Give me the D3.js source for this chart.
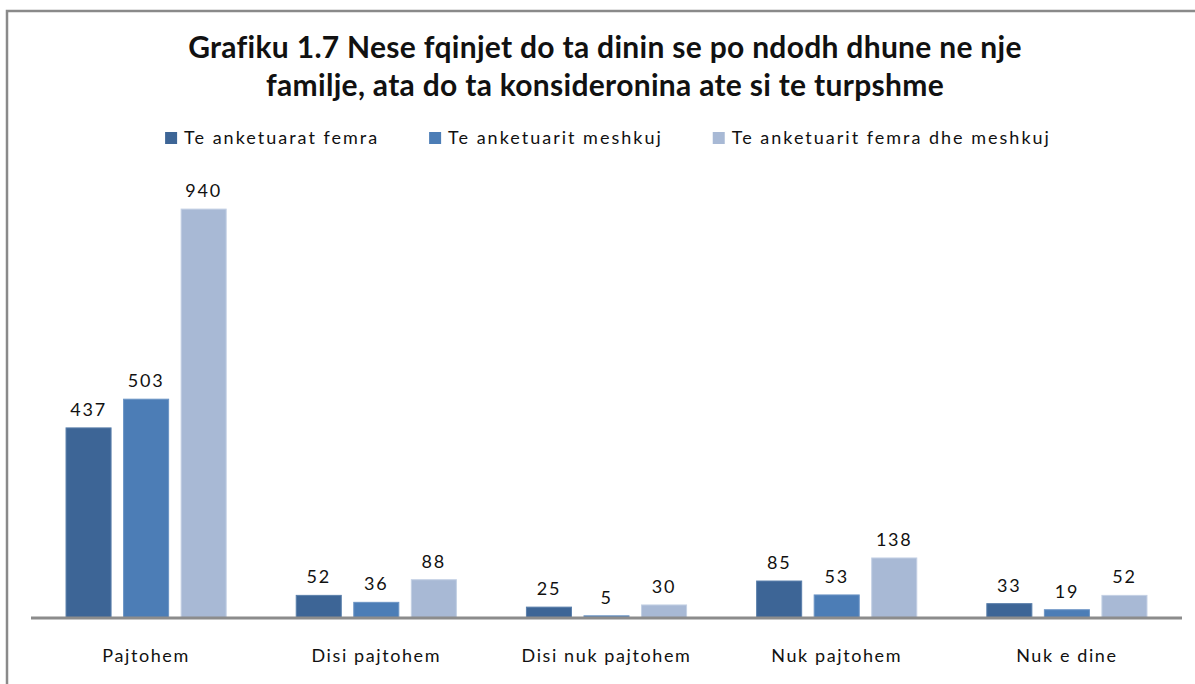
<!DOCTYPE html>
<html lang="sq">
<head>
  <meta charset="UTF-8">
  <title>Grafiku 1.7</title>
  <script src="https://cdnjs.cloudflare.com/ajax/libs/d3/7.8.5/d3.min.js"></script>
  <style>
    body { margin: 0; background: #fff; }
    text { font-family: Lato, "Open Sans", sans-serif; fill: #111; }
    .title { font-weight: bold; font-size: 30px; letter-spacing: 0.3px; }
    .legend-text { font-size: 18px; letter-spacing: 2px; }
    .cat { font-size: 18px; letter-spacing: 1.6px; }
    .val { font-size: 18px; letter-spacing: 1.8px; }
  </style>
</head>
<body>
<div id="chart"></div>
<script>
const categories = ["Pajtohem", "Disi pajtohem", "Disi nuk pajtohem", "Nuk pajtohem", "Nuk e dine"];
const seriesNames = ["Te anketuarat femra", "Te anketuarit meshkuj", "Te anketuarit femra dhe meshkuj"];
const femra = [437, 52, 25, 85, 33];
const meshkuj = [503, 36, 5, 53, 19];
const total = [940, 88, 30, 138, 52];
const titleLines = ["Grafiku 1.7 Nese fqinjet do ta dinin se po ndodh dhune ne nje",
                    "familje, ata do ta konsideronina ate si te turpshme"];

const colors = ["#3d6596", "#4c7db6", "#a8b9d5"];
const strokes = ["#5a7fab", "#6b94c5", "#c3d0e4"];
const seriesValues = [femra, meshkuj, total];

const width = 1195, height = 684;
const plot = { left: 31, right: 1182, top: 183, bottom: 618 };

const svg = d3.select("#chart").append("svg")
  .attr("width", width)
  .attr("height", height);

// frame
svg.append("rect")
  .attr("x", 7).attr("y", 11)
  .attr("width", 1200).attr("height", 700)
  .attr("fill", "#fff")
  .attr("stroke", "#8a8a8a")
  .attr("stroke-width", 2.5);

// title
svg.append("g").selectAll("text")
  .data(titleLines)
  .join("text")
  .attr("class", "title")
  .attr("x", 605)
  .attr("y", (d, i) => 58 + i * 38)
  .attr("text-anchor", "middle")
  .text(d => d);

const x0 = d3.scaleBand()
  .domain(categories)
  .range([plot.left, plot.right]);

const x1 = d3.scaleBand()
  .domain(d3.range(seriesNames.length))
  .range([0, x0.bandwidth()])
  .paddingInner(0.2)
  .paddingOuter(0.6);

const y = d3.scaleLinear()
  .domain([0, 1000])
  .range([plot.bottom, plot.top]);

const data = [];
categories.forEach((c, i) => {
  seriesValues.forEach((vals, s) => {
    data.push({ cat: c, s: s, v: vals[i] });
  });
});

const bars = svg.append("g");
bars.selectAll("rect")
  .data(data)
  .join("rect")
  .attr("x", d => x0(d.cat) + x1(d.s) + 0.5)
  .attr("y", d => y(d.v))
  .attr("width", x1.bandwidth() - 1)
  .attr("height", d => y(0) - y(d.v))
  .attr("fill", d => colors[d.s])
  .attr("stroke", d => strokes[d.s])
  .attr("stroke-width", 1);

svg.append("g").selectAll("text")
  .data(data)
  .join("text")
  .attr("class", "val")
  .attr("x", d => x0(d.cat) + x1(d.s) + x1.bandwidth() / 2)
  .attr("y", d => y(d.v) - 12)
  .attr("text-anchor", "middle")
  .text(d => d.v);

// axis line
svg.append("line")
  .attr("x1", plot.left).attr("x2", plot.right)
  .attr("y1", plot.bottom).attr("y2", plot.bottom)
  .attr("stroke", "#8c8c8c")
  .attr("stroke-width", 3);

svg.append("g").selectAll("text")
  .data(categories)
  .join("text")
  .attr("class", "cat")
  .attr("x", d => x0(d) + x0.bandwidth() / 2)
  .attr("y", 662)
  .attr("text-anchor", "middle")
  .text(d => d);

// legend
const legend = svg.append("g");
const items = legend.selectAll("g")
  .data(seriesNames)
  .join("g");
items.append("rect")
  .attr("width", 12).attr("height", 12)
  .attr("y", 132)
  .attr("fill", (d, i) => colors[i]);
items.append("text")
  .attr("class", "legend-text")
  .attr("x", 19)
  .attr("y", 144)
  .text(d => d);

let pos = 0;
const offsets = [];
items.each(function() {
  offsets.push(pos);
  pos += this.getBBox().width + 50;
});
const totalW = pos - 50;
const startX = 608 - totalW / 2;
items.attr("transform", (d, i) => `translate(${startX + offsets[i]},0)`);
</script>
</body>
</html>
